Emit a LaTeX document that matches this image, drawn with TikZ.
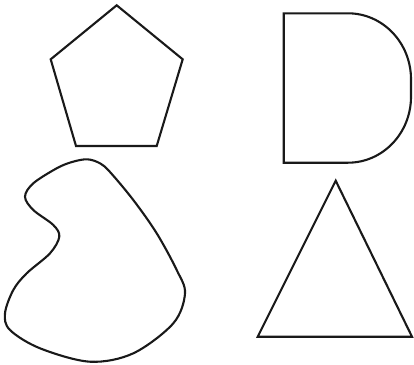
\documentclass[tikz,border=0pt]{standalone}
\begin{document}
\begin{tikzpicture}[x=1pt,y=-1pt,line join=miter,
  shapeline/.style={draw=black!90,line width=2.1pt}]
\useasboundingbox (0,0) rectangle (414,364);
% pentagon
\draw[shapeline] (116.7,5.3) -- (182.7,59.3) -- (156.7,146) -- (76,146) -- (50.7,59.3) -- cycle;
% D shape
\draw[shapeline] (283.7,13.3) -- (348,13.3) arc[start angle=90,end angle=0,x radius=63,y radius=-66] -- (411,96.7) arc[start angle=0,end angle=-90,x radius=63,y radius=-66] -- (283.7,162.7) -- cycle;
% triangle
\draw[shapeline] (335.7,180.7) -- (412,336.7) -- (257.7,336.7) -- cycle;
% blob
\draw[shapeline] plot[smooth cycle,tension=0.55] coordinates {
 (87.3,159.3) (72,162) (56.7,168.3) (33.3,183.3) (25,196.7) (33.3,210) (53.3,225)
 (59.3,236.7) (50,253.3) (26.7,273.3) (13.3,290) (5,313.3) (10,330)
 (40,348.3) (90,361.7) (133.3,353.3) (173.3,323.3) (185,293.3) (176.7,270)
 (156.7,233.3) (133.3,200) (110,172) (100,163.3)};
\end{tikzpicture}
\end{document}
